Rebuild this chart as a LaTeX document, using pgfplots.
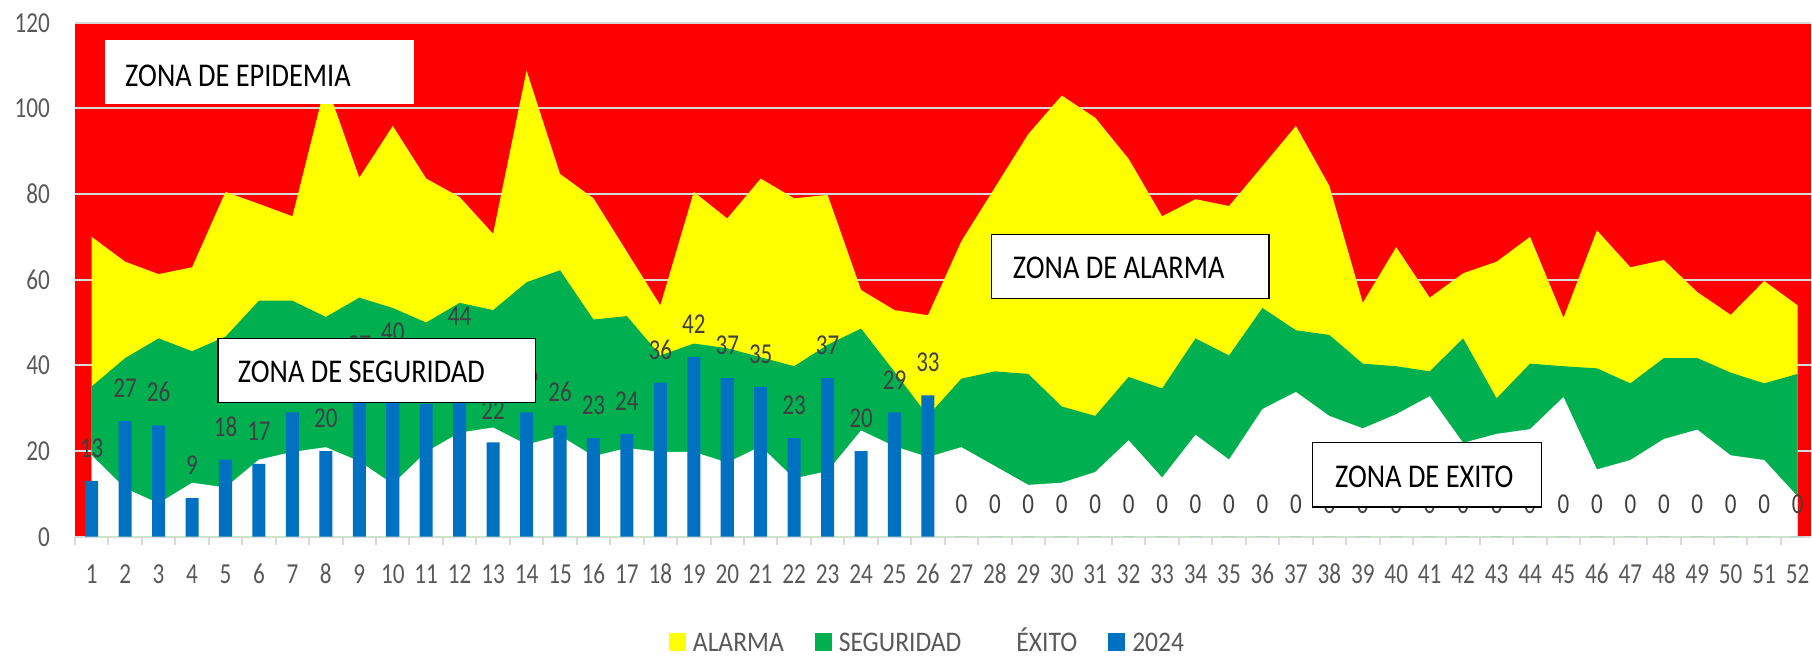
\documentclass[border=0pt]{standalone}
\usepackage{pgfplots}
\pgfplotsset{compat=1.18}
\usepackage{pgfplotstable}
\usepackage{fontspec}
\setmainfont{Carlito}[FakeStretch=0.855]
\newfontfamily\numfont{Carlito}[FakeStretch=0.8]
\newfontfamily\legfont{Carlito}[FakeStretch=0.9]
\definecolor{tickgray}{HTML}{595959}
\definecolor{labgray}{HTML}{404040}
\definecolor{gridgray}{HTML}{D9D9D9}
\definecolor{xyellow}{HTML}{FFFF00}
\definecolor{xgreen}{HTML}{00B050}
\definecolor{xblue}{HTML}{0070C0}
\definecolor{xred}{HTML}{FF0000}

\pgfplotstableread{
wk alarma seg exito yr
1 70 35.1 19 13
2 64.2 41.7 11.3 27
3 61.3 46.3 7.8 26
4 62.9 43.3 12.6 9
5 80.5 46.7 11.5 18
6 77.7 55.1 18 17
7 74.8 55.1 19.8 29
8 106 51.3 20.9 20
9 83.8 55.8 17.6 37
10 95.9 53.4 12.3 40
11 83.6 50 19.8 31
12 79.3 54.6 24.3 44
13 70.7 52.9 25.5 22
14 108.8 59.4 21.5 29
15 84.7 62.2 23.6 26
16 79 50.7 18.8 23
17 66.5 51.5 20.7 24
18 54 42.3 19.8 36
19 80.5 45.1 19.8 42
20 74.3 44 17.3 37
21 83.6 41.9 21.1 35
22 79 39.8 13.6 23
23 79.8 44.8 15.3 37
24 57.6 48.6 24.8 20
25 52.9 38.5 21.1 29
26 51.7 28.2 18.6 33
27 69 36.9 20.9 0
28 81.5 38.6 16.5 0
29 94 38 12.1 0
30 103 30.4 12.6 0
31 97.8 28.2 15.1 0
32 88.2 37.3 22.5 0
33 74.8 34.6 13.8 0
34 78.8 46.3 23.8 0
35 77.2 42.3 18 0
36 86.5 53.4 29.8 0
37 95.9 48.2 33.8 0
38 81.9 47.1 28.2 0
39 54.6 40.4 25.3 0
40 67.6 39.8 28.6 0
41 55.8 38.6 32.8 0
42 61.5 46.3 21.9 0
43 64.2 32.3 24 0
44 70 40.4 25.1 0
45 51.1 39.8 32.6 0
46 71.5 39.3 15.7 0
47 62.9 35.8 17.9 0
48 64.6 41.7 22.8 0
49 57.1 41.7 25 0
50 51.8 38.3 19 0
51 59.7 35.8 17.9 0
52 54 38 9.4 0
}\datatable

\begin{document}
\begin{tikzpicture}
\begin{axis}[
  set layers=standard,
  at={(0pt,0pt)}, anchor=south west,
  scale only axis, width=868pt, height=257pt,
  xmin=0.5, xmax=52.4, ymin=0, ymax=120,
  axis background/.style={fill=xred},
  ymajorgrids,
  major grid style={gridgray, line width=1pt},
  ytick={0,20,...,120},
  xtick={1,...,52},
  minor xtick={0.5,1.5,...,51.5},
  separate axis lines,
  axis x line*=bottom,
  axis y line*=left,
  y axis line style={draw=none},
  x axis line style={gridgray, line width=1pt},
  ytick style={draw=none},
  xtick style={gridgray, line width=1pt},
  major tick length=0pt,
  minor tick length=4pt,
  tick align=outside,
  /pgf/number format/assume math mode=true,
  ticklabel style={font=\numfont\fontsize{14.5}{16}\selectfont, text=tickgray},
  xticklabel style={yshift=-10pt, text height=10pt, text depth=0pt},
  yticklabel style={xshift=-9pt},
  legend image code/.code={\fill[#1] (0pt,-5.7pt) rectangle (8.5pt,3.3pt);},
  legend columns=4,
  legend style={at={(0.4908,-0.2005)}, anchor=center, draw=none, fill=none,
    font=\legfont\fontsize{14.2}{16}\selectfont, text=tickgray,
    /tikz/every odd column/.append style={column sep=3pt},
    /tikz/every even column/.append style={column sep=15pt},
    nodes={inner sep=0.5pt, text height=12pt, text depth=0.5pt}},
]
\addplot[fill=xyellow, draw=none, forget plot] table[x=wk, y=alarma]{\datatable} \closedcycle;
\addplot[fill=xgreen, draw=none, forget plot] table[x=wk, y=seg]{\datatable} \closedcycle;
\addplot[fill=white, draw=none, forget plot] table[x=wk, y=exito]{\datatable} \closedcycle;
\addplot[ybar, bar width=0.39, fill=xblue, draw=none, forget plot,
  nodes near coords,
  every node near coord/.append style={font=\numfont\fontsize{14.4}{16}\selectfont, text=labgray, inner sep=0pt, yshift=11.4pt}]
  table[x=wk, y=yr]{\datatable};

\addlegendimage{fill=xyellow, draw=none}
\addlegendentry{ALARMA}
\addlegendimage{fill=xgreen, draw=none}
\addlegendentry{SEGURIDAD}
\addlegendimage{fill=white, draw=none}
\addlegendentry{ÉXITO}
\addlegendimage{fill=xblue, draw=none}
\addlegendentry{2024}

\begin{pgfonlayer}{axis foreground}
\fill[white] (axis cs:1.39,101.0) rectangle (axis cs:10.63,115.9);
\node[anchor=west, inner sep=0pt, font=\fontsize{16.6}{19}\selectfont] at (axis cs:1.99,107.5) {ZONA DE EPIDEMIA};
\draw[fill=white, line width=0.7pt] (axis cs:4.77,31.3) rectangle (axis cs:14.27,46.3);
\node[anchor=west, inner sep=0pt, font=\fontsize{16.6}{19}\selectfont] at (axis cs:5.36,38.4) {ZONA DE SEGURIDAD};
\draw[fill=white, line width=0.7pt] (axis cs:27.9,55.6) rectangle (axis cs:36.19,70.5);
\node[anchor=west, inner sep=0pt, font=\fontsize{16.6}{19}\selectfont] at (axis cs:28.53,62.7) {ZONA DE ALARMA};
\draw[fill=white, line width=0.7pt] (axis cs:37.5,6.9) rectangle (axis cs:44.35,22.0);
\node[anchor=west, inner sep=0pt, font=\fontsize{16.6}{19}\selectfont] at (axis cs:38.16,13.9) {ZONA DE EXITO};
\end{pgfonlayer}
\end{axis}
\pgfresetboundingbox
\path[use as bounding box] (-37.5pt,-59.15pt) rectangle (868.5pt,268.35pt);
\end{tikzpicture}
\end{document}
